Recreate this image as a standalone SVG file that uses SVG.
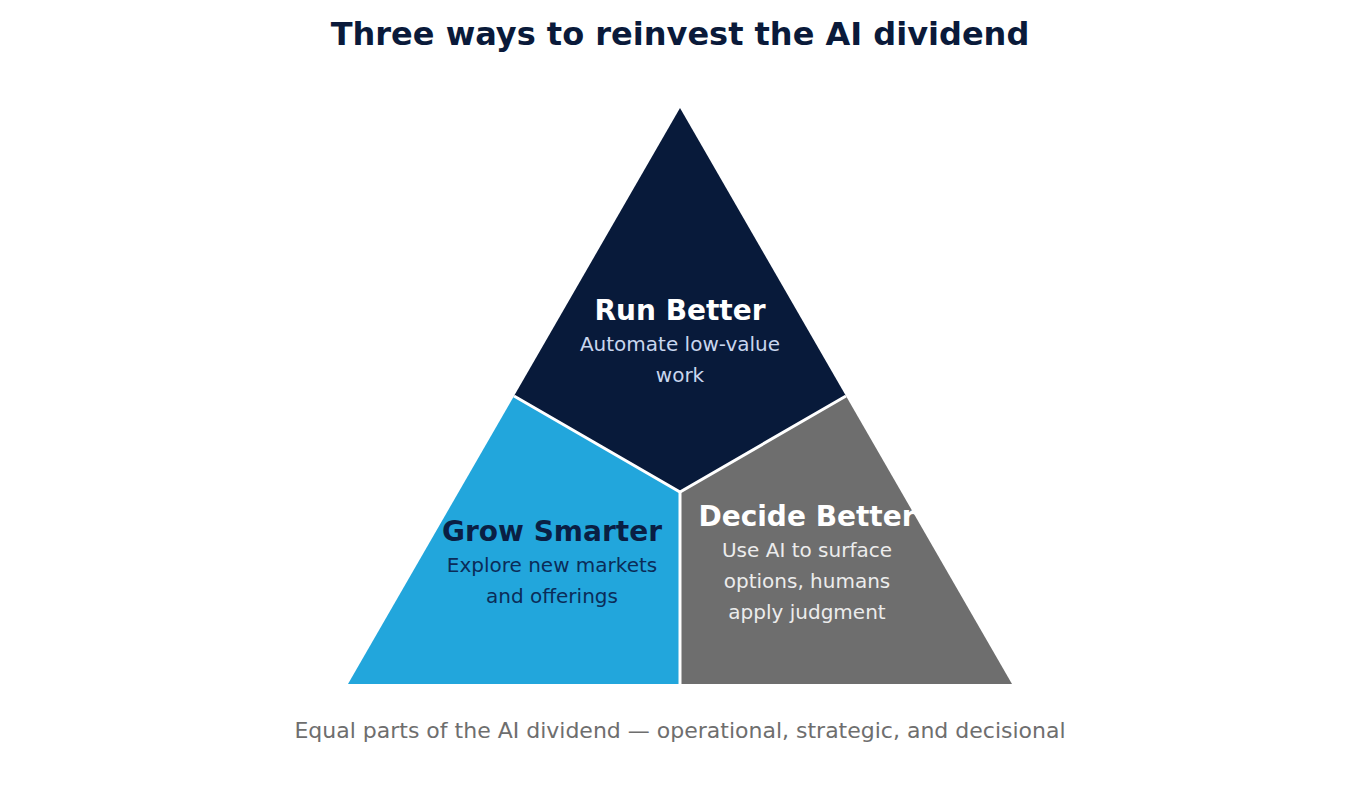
<svg xmlns="http://www.w3.org/2000/svg" width="1360" height="788" viewBox="0 0 1360 788">
<style>
.div{stroke:#ffffff;stroke-width:3;fill:none}
.h{font-family:"DejaVu Sans",Verdana,sans-serif;font-weight:bold;font-size:28px;text-anchor:middle}
.s{font-family:"DejaVu Sans",Verdana,sans-serif;font-size:20px;text-anchor:middle}
</style>
<rect width="1360" height="788" fill="#ffffff"/>
<text x="680" y="45" font-family="DejaVu Sans, Verdana, sans-serif" font-weight="bold" font-size="32" text-anchor="middle" fill="#0a1a3a">Three ways to reinvest the AI dividend</text>
<g id="run-better">
<polygon points="680,108 846,396 680,492 514,396" fill="#081a3a"/>
<text class="h" x="680" y="320" fill="#ffffff">Run Better</text>
<text class="s" x="680" y="351" fill="#c9d6ee">Automate low-value</text>
<text class="s" x="680" y="382" fill="#c9d6ee">work</text>
</g>
<g id="grow-smarter">
<polygon points="514,396 680,492 680,684 348,684" fill="#22a6dc"/>
<text class="h" x="552" y="541" fill="#0a1f44">Grow Smarter</text>
<text class="s" x="552" y="572" fill="#0b2c58">Explore new markets</text>
<text class="s" x="552" y="603" fill="#0b2c58">and offerings</text>
</g>
<g id="decide-better">
<polygon points="846,396 1012,684 680,684 680,492" fill="#6e6e6e"/>
<text class="h" x="807" y="526" fill="#ffffff">Decide Better</text>
<text class="s" x="807" y="557" fill="#ececec">Use AI to surface</text>
<text class="s" x="807" y="588" fill="#ececec">options, humans</text>
<text class="s" x="807" y="619" fill="#ececec">apply judgment</text>
</g>
<g id="connectors">
<polyline class="div" points="514,396 680,492 846,396"/>
<line class="div" x1="680" y1="492" x2="680" y2="686"/>
</g>
<text x="680" y="738" font-family="DejaVu Sans, Verdana, sans-serif" font-size="22" text-anchor="middle" fill="#6e6e6e">Equal parts of the AI dividend — operational, strategic, and decisional</text>
</svg>
